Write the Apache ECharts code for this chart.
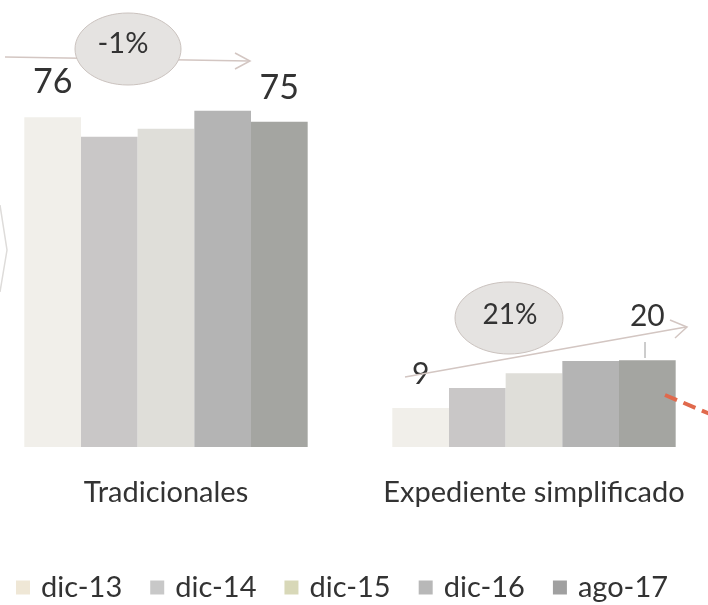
<!DOCTYPE html>
<html>
<head>
<meta charset="utf-8">
<script src="https://cdn.jsdelivr.net/npm/echarts@6/dist/echarts.min.js"></script>
<style>
  html, body { margin: 0; padding: 0; background: #fff; }
  #chart { width: 708px; height: 605px; }
</style>
</head>
<body>
<div id="chart"></div>
<script>
// categorias y series
const categories = ["Tradicionales", "Expediente simplificado"];
const seriesNames = ["dic-13", "dic-14", "dic-15", "dic-16", "ago-17"];
const dic13 = [76, 9];
const dic14 = [71.5, 13.6];
const dic15 = [73.4, 17];
const dic16 = [77.5, 19.8];
const ago17 = [75, 20];
const changeLabels = ["-1%", "21%"];

const seriesValues = [dic13, dic14, dic15, dic16, ago17];
const barColors = ["#f1efea", "#c9c7c7", "#dfded9", "#b4b4b4", "#a4a5a1"];
const legendColors = ["#efe7d6", "#c8c8c8", "#d8d8b8", "#b8b8b8", "#a0a0a0"];
const textColor = "#333333";
const font = "Lato, 'Open Sans', sans-serif";

// solo se etiquetan el primero y el ultimo de cada grupo
const labelDist = [[18, 19], null, null, null, [17, 29]];
const labelSize = [34, 30];

let chart = echarts.init(document.getElementById("chart"));

let series = seriesValues.map((vals, si) => ({
  name: seriesNames[si],
  type: "bar",
  barGap: "0%",
  barCategoryGap: "23%",
  itemStyle: { color: barColors[si] },
  emphasis: { disabled: true },
  data: vals.map((v, ci) => {
    let item = { value: v };
    if (labelDist[si]) {
      item.label = {
        show: true,
        position: "top",
        distance: labelDist[si][ci],
        fontFamily: font,
        fontSize: labelSize[ci],
        color: textColor,
        formatter: "{c}",
      };
    }
    return item;
  }),
}));

let lineCol = "#d3c6c2";
let option = {
  backgroundColor: "#ffffff",
  animation: false,
  grid: {
    left: -18,
    right: -10,
    top: 100,
    bottom: 158,
    containLabel: false,
    outerBoundsMode: "none",
  },
  xAxis: {
    type: "category",
    data: categories,
    axisLine: { show: false },
    axisTick: { show: false },
    splitLine: { show: false },
    axisLabel: {
      interval: 0,
      hideOverlap: false,
      margin: 31,
      fontFamily: font,
      fontSize: 29,
      color: textColor,
    },
  },
  yAxis: {
    type: "value",
    min: 0,
    max: 80,
    show: false,
  },
  legend: {
    left: 11,
    top: 568,
    icon: "rect",
    itemWidth: 14,
    itemHeight: 14,
    itemGap: 28,
    data: seriesNames.map((n, i) => ({ name: n, itemStyle: { color: legendColors[i] } })),
    textStyle: {
      fontFamily: font,
      fontSize: 29,
      color: textColor,
      padding: [0, 0, 0, 6],
    },
  },
  graphic: [
    // marca tenue a la izquierda
    { type: "polyline", z: 100, shape: { points: [[0, 205], [7, 250], [0, 292]] }, style: { stroke: "#dedcda", lineWidth: 1.5, fill: null } },
    // flecha grupo izquierdo
    { type: "line", z: 100, shape: { x1: 5, y1: 57, x2: 249, y2: 61 }, style: { stroke: lineCol, lineWidth: 1.5 } },
    { type: "polyline", z: 100, shape: { points: [[235, 53], [250, 61], [235, 69]] }, style: { stroke: lineCol, lineWidth: 1.5, fill: null } },
    { type: "ellipse", z: 101, shape: { cx: 128, cy: 49, rx: 53, ry: 36 }, style: { fill: "#e5e3e1", stroke: "#cbc3bf", lineWidth: 1 } },
    { type: "text", z: 102, x: 123, y: 44, style: { text: changeLabels[0], font: "29px " + font, fill: textColor, align: "center", verticalAlign: "middle" } },
    // flecha grupo derecho
    { type: "line", z: 100, shape: { x1: 405, y1: 377, x2: 686, y2: 327 }, style: { stroke: lineCol, lineWidth: 1.5 } },
    { type: "polyline", z: 100, shape: { points: [[670, 320], [687, 327], [675, 338]] }, style: { stroke: lineCol, lineWidth: 1.5, fill: null } },
    { type: "ellipse", z: 101, shape: { cx: 509, cy: 318, rx: 54, ry: 36 }, style: { fill: "#e5e3e1", stroke: "#cbc3bf", lineWidth: 1 } },
    { type: "text", z: 102, x: 510, y: 315, style: { text: changeLabels[1], font: "28px " + font, fill: textColor, align: "center", verticalAlign: "middle" } },
    { type: "line", z: 100, shape: { x1: 645, y1: 342, x2: 645, y2: 358 }, style: { stroke: "#9a9a9a", lineWidth: 1 } },
    // linea discontinua roja
    { type: "line", z: 100, shape: { x1: 665, y1: 395, x2: 710, y2: 414 }, style: { stroke: "#e0694c", lineWidth: 4, lineDash: [13, 7] } },
  ],
  series: series,
};

chart.setOption(option);
</script>
</body>
</html>
